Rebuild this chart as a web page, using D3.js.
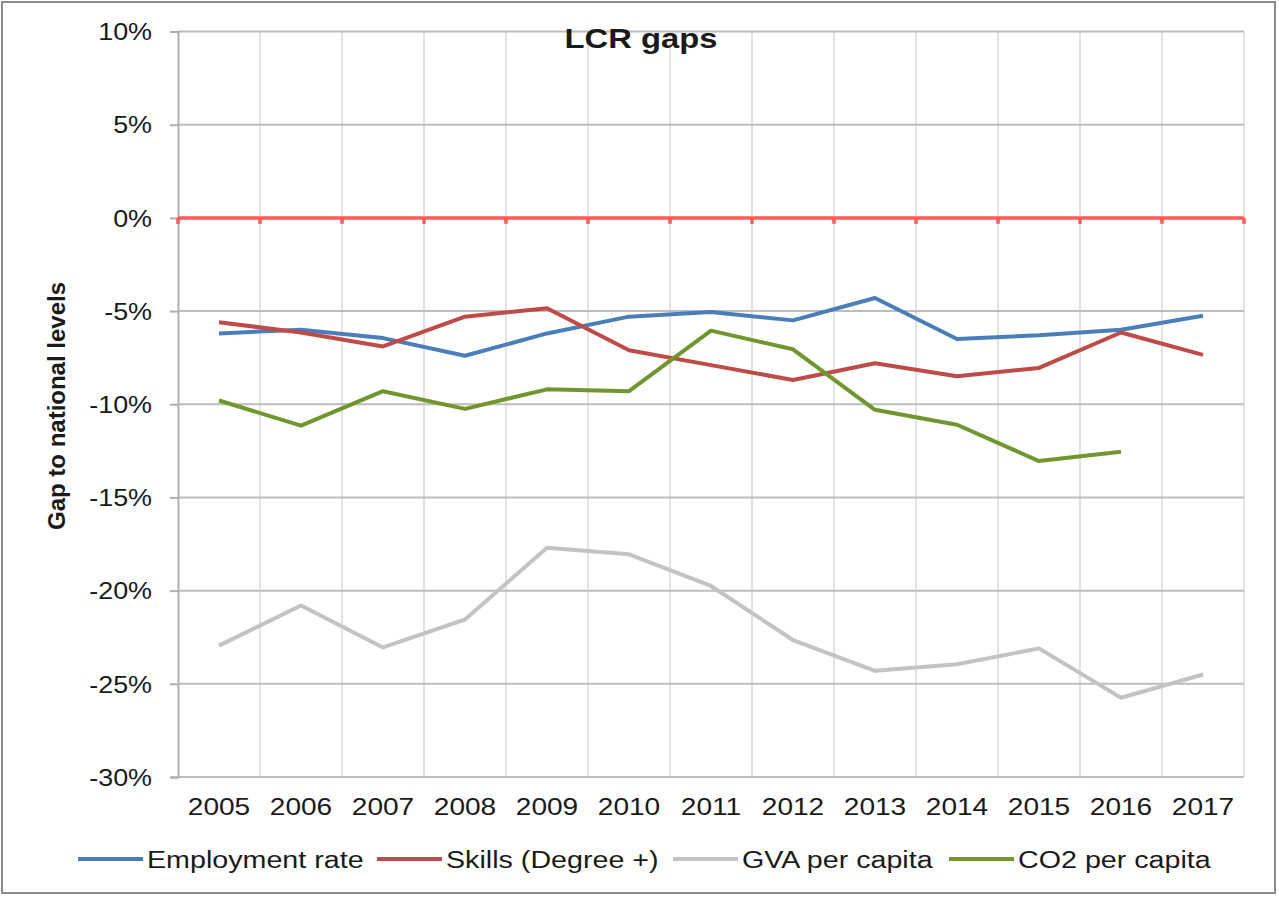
<!DOCTYPE html>
<html lang="en">
	<head>
		<meta charset="utf-8">
		<title>LCR gaps</title>
		<script src="https://d3js.org/d3.v7.min.js"></script>
		<style>
			body { margin: 0; background: #fff; }
			text { font-family: "Liberation Sans", Arial, sans-serif; fill: #1a1a1a; }
		</style>
	</head>
	<body>
		<script type="text/javascript">

			// data (gap to national level, %)
			var years = ["2005","2006","2007","2008","2009","2010","2011","2012","2013","2014","2015","2016","2017"];
			var employment = [-6.2, -6.0, -6.45, -7.4, -6.2, -5.3, -5.05, -5.5, -4.3, -6.5, -6.3, -6.0, -5.25];
			var skills = [-5.6, -6.15, -6.9, -5.3, -4.85, -7.1, -7.9, -8.7, -7.8, -8.5, -8.05, -6.15, -7.35];
			var gva = [-22.95, -20.8, -23.05, -21.55, -17.7, -18.05, -19.75, -22.65, -24.3, -23.95, -23.1, -25.75, -24.5];
			var co2 = [-9.8, -11.15, -9.3, -10.25, -9.2, -9.3, -6.05, -7.05, -10.3, -11.1, -13.05, -12.55, null];
			var yTicks = [10, 5, 0, -5, -10, -15, -20, -25, -30];

			var series = [
				{name: "Employment rate", values: employment, color: "#4a7ebb"},
				{name: "Skills (Degree +)", values: skills, color: "#be4b48"},
				{name: "GVA per capita", values: gva, color: "#c3c3c3"},
				{name: "CO2 per capita", values: co2, color: "#71962f"}
			];

			var w = 1279;
			var h = 897;
			var plotLeft = 178, plotRight = 1244, plotTop = 31.5, plotBottom = 777;
			var stretch = 1.17;   // the source picture is a bit wide

			var svg = d3.select("body").append("svg").attr("width", w).attr("height", h);

			// outer border
			svg.append("rect").attr("x", 2).attr("y", 2).attr("width", 1273).attr("height", 891)
				.attr("fill", "none").attr("stroke", "#8c8c8c").attr("stroke-width", 2);

			//    Scales
			var xScale = d3.scaleBand().domain(years).range([plotLeft, plotRight]).padding(0);
			var yScale = d3.scaleLinear().domain([-30, 10]).range([plotBottom, plotTop]);
			var bw = xScale.bandwidth();

			// vertical grid lines at band edges
			var edges = years.map(function(d) { return xScale(d); }).concat([plotRight]);
			svg.append("g").selectAll("line").data(edges.slice(1)).enter().append("line")
				.attr("x1", function(d) { return d; }).attr("x2", function(d) { return d; })
				.attr("y1", plotTop).attr("y2", plotBottom)
				.attr("stroke", "#e3e3e3").attr("stroke-width", 2);

			// horizontal grid lines
			svg.append("g").selectAll("line").data(yTicks).enter().append("line")
				.attr("x1", plotLeft).attr("x2", plotRight)
				.attr("y1", function(d) { return yScale(d); }).attr("y2", function(d) { return yScale(d); })
				.attr("stroke", "#bdbdbd").attr("stroke-width", 2);

			//    Y axis
			var yAxis = d3.axisLeft(yScale).tickValues(yTicks).tickSize(8).tickPadding(0)
				.tickFormat(function(d) { return d + "%"; });
			var gy = svg.append("g").attr("transform", "translate(" + plotLeft + ",0)").call(yAxis);
			gy.select(".domain").attr("stroke", "#b0b0b0").attr("stroke-width", 2);
			gy.selectAll(".tick line").attr("stroke", "#b0b0b0").attr("stroke-width", 2);
			gy.selectAll(".tick text")
				.attr("x", -26 / stretch).attr("dy", "0.36em")
				.attr("transform", "scale(" + stretch + ",1)")
				.style("font-size", "23px").attr("fill", "#1a1a1a")
				.attr("font-family", null);

			//    X axis labels
			var xAxis = d3.axisBottom(xScale).tickSize(0).tickPadding(0);
			var gx = svg.append("g").attr("transform", "translate(0," + plotBottom + ")").call(xAxis);
			gx.select(".domain").remove();
			gx.selectAll(".tick text")
				.attr("y", 38).attr("dy", 0)
				.attr("transform", function() {
					// scale each label around its own tick
					return "scale(" + stretch + ",1)";
				})
				.style("font-size", "24px").attr("fill", "#1a1a1a")
				.attr("font-family", null);

			// zero line with its small ticks
			var y0 = yScale(0);
			svg.append("line").attr("x1", plotLeft).attr("x2", plotRight).attr("y1", y0).attr("y2", y0)
				.attr("stroke", "#ff5a5a").attr("stroke-width", 3.5);
			svg.append("g").selectAll("line").data(edges).enter().append("line")
				.attr("x1", function(d) { return d; }).attr("x2", function(d) { return d; })
				.attr("y1", y0).attr("y2", y0 + 6)
				.attr("stroke", "#ff5a5a").attr("stroke-width", 3.5);

			//    Series lines
			var line = d3.line()
				.defined(function(d) { return d != null; })
				.x(function(d, i) { return xScale(years[i]) + bw / 2; })
				.y(function(d) { return yScale(d); });

			svg.append("g").selectAll("path").data(series).enter().append("path")
				.attr("d", function(s) { return line(s.values); })
				.attr("fill", "none")
				.attr("stroke", function(s) { return s.color; })
				.attr("stroke-width", 4)
				.attr("stroke-linejoin", "round");

			//    Title
			svg.append("text").attr("transform", "translate(641,48) scale(" + stretch + ",1)")
				.attr("text-anchor", "middle")
				.style("font-size", "28px").style("font-weight", "bold")
				.text("LCR gaps");

			//    Y axis title
			svg.append("text").attr("transform", "translate(65,406) rotate(-90)")
				.attr("text-anchor", "middle")
				.style("font-size", "24px").style("font-weight", "bold")
				.text("Gap to national levels");

			//    Legend
			var legendX = [78, 377, 673, 949];
			var lg = svg.append("g").selectAll("g").data(series).enter().append("g")
				.attr("transform", function(s, i) { return "translate(" + legendX[i] + ",859)"; });
			lg.append("line").attr("x1", 0).attr("x2", 65).attr("y1", 0).attr("y2", 0)
				.attr("stroke", function(s) { return s.color; }).attr("stroke-width", 4);
			lg.append("text").attr("transform", "translate(69,9) scale(" + stretch + ",1)")
				.style("font-size", "24.5px")
				.text(function(s) { return s.name; });

		</script>
	</body>
</html>
